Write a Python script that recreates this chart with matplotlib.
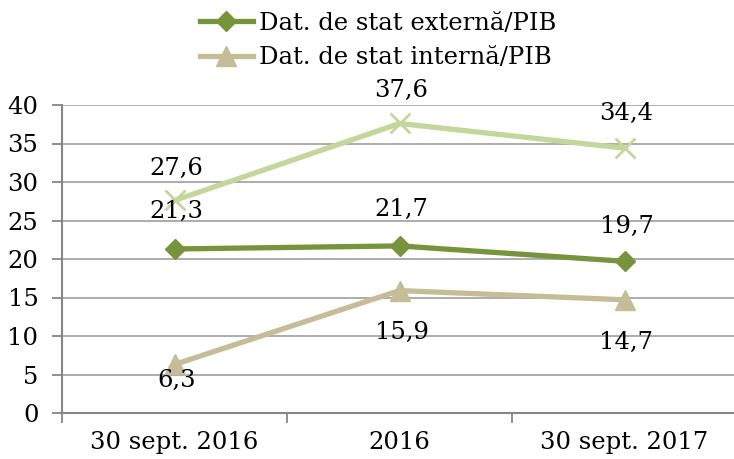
import matplotlib
matplotlib.use("Agg")
import matplotlib.pyplot as plt

categories = ["30 sept. 2016", "2016", "30 sept. 2017"]
externa = [21.3, 21.7, 19.7]
interna = [6.3, 15.9, 14.7]
total = [27.6, 37.6, 34.4]
label_externa = "Dat. de stat externă/PIB"
label_interna = "Dat. de stat internă/PIB"
yticks = [0, 5, 10, 15, 20, 25, 30, 35, 40]

plt.rcParams['font.family'] = ['DejaVu Serif']
FS = 17.5

fig = plt.figure(figsize=(7.34, 4.59), dpi=100)
ax = fig.add_axes([62/734, 46/459, 675/734, 308/459])

x = list(range(len(categories)))
c_ext = "#77933C"
c_int = "#C4BD97"
c_tot = "#C3D69B"

ax.plot(x, total, color=c_tot, lw=3.8, marker='x', ms=14, mew=2, zorder=3, label='_nolegend_')
l1, = ax.plot(x, externa, color=c_ext, lw=3.8, marker='D', ms=10, zorder=4, label=label_externa)
l2, = ax.plot(x, interna, color=c_int, lw=3.8, marker='^', ms=14, zorder=3, label=label_interna)

def fmt(v):
    return f"{v:.1f}".replace('.', ',')

off_tot = [32, 33, 35]
off_ext = [38, 36, 35]
off_int = [-16, -42, -43]
for xi, v, o in zip(x, total, off_tot):
    ax.annotate(fmt(v), (xi, v), xytext=(2, o), textcoords='offset pixels', ha='center', va='center', fontsize=FS)
for xi, v, o in zip(x, externa, off_ext):
    ax.annotate(fmt(v), (xi, v), xytext=(2, o), textcoords='offset pixels', ha='center', va='center', fontsize=FS)
for xi, v, o in zip(x, interna, off_int):
    ax.annotate(fmt(v), (xi, v), xytext=(2, o), textcoords='offset pixels', ha='center', va='center', fontsize=FS)

ax.set_xlim(-0.5, 2.5)
ax.set_ylim(0, 40)
ax.set_yticks(yticks)
ax.set_xticks(x)
ax.set_xticklabels(categories, fontsize=FS)
ax.set_xticks([-0.5, 0.5, 1.5, 2.5], minor=True)
ax.tick_params(axis='x', which='major', length=0, pad=13)
ax.tick_params(axis='x', which='minor', length=7, color='#868686', width=1.3)
ax.tick_params(axis='y', length=7, color='#868686', width=1.3, pad=10, labelsize=FS)
ax.yaxis.grid(True, color='#A6A6A6', lw=1.3)
ax.set_axisbelow(True)
for s in ['top', 'right']:
    ax.spines[s].set_visible(False)
for s in ['left', 'bottom']:
    ax.spines[s].set_color('#868686')
    ax.spines[s].set_linewidth(1.5)

fig.legend(handles=[l1, l2], loc='upper left', bbox_to_anchor=(196/734, 1 - 8/459), frameon=False,
           fontsize=FS, handlelength=2.2, handletextpad=0.25, labelspacing=0.47, borderpad=0.15,
           borderaxespad=0)

fig.savefig("out.png", dpi=100)
